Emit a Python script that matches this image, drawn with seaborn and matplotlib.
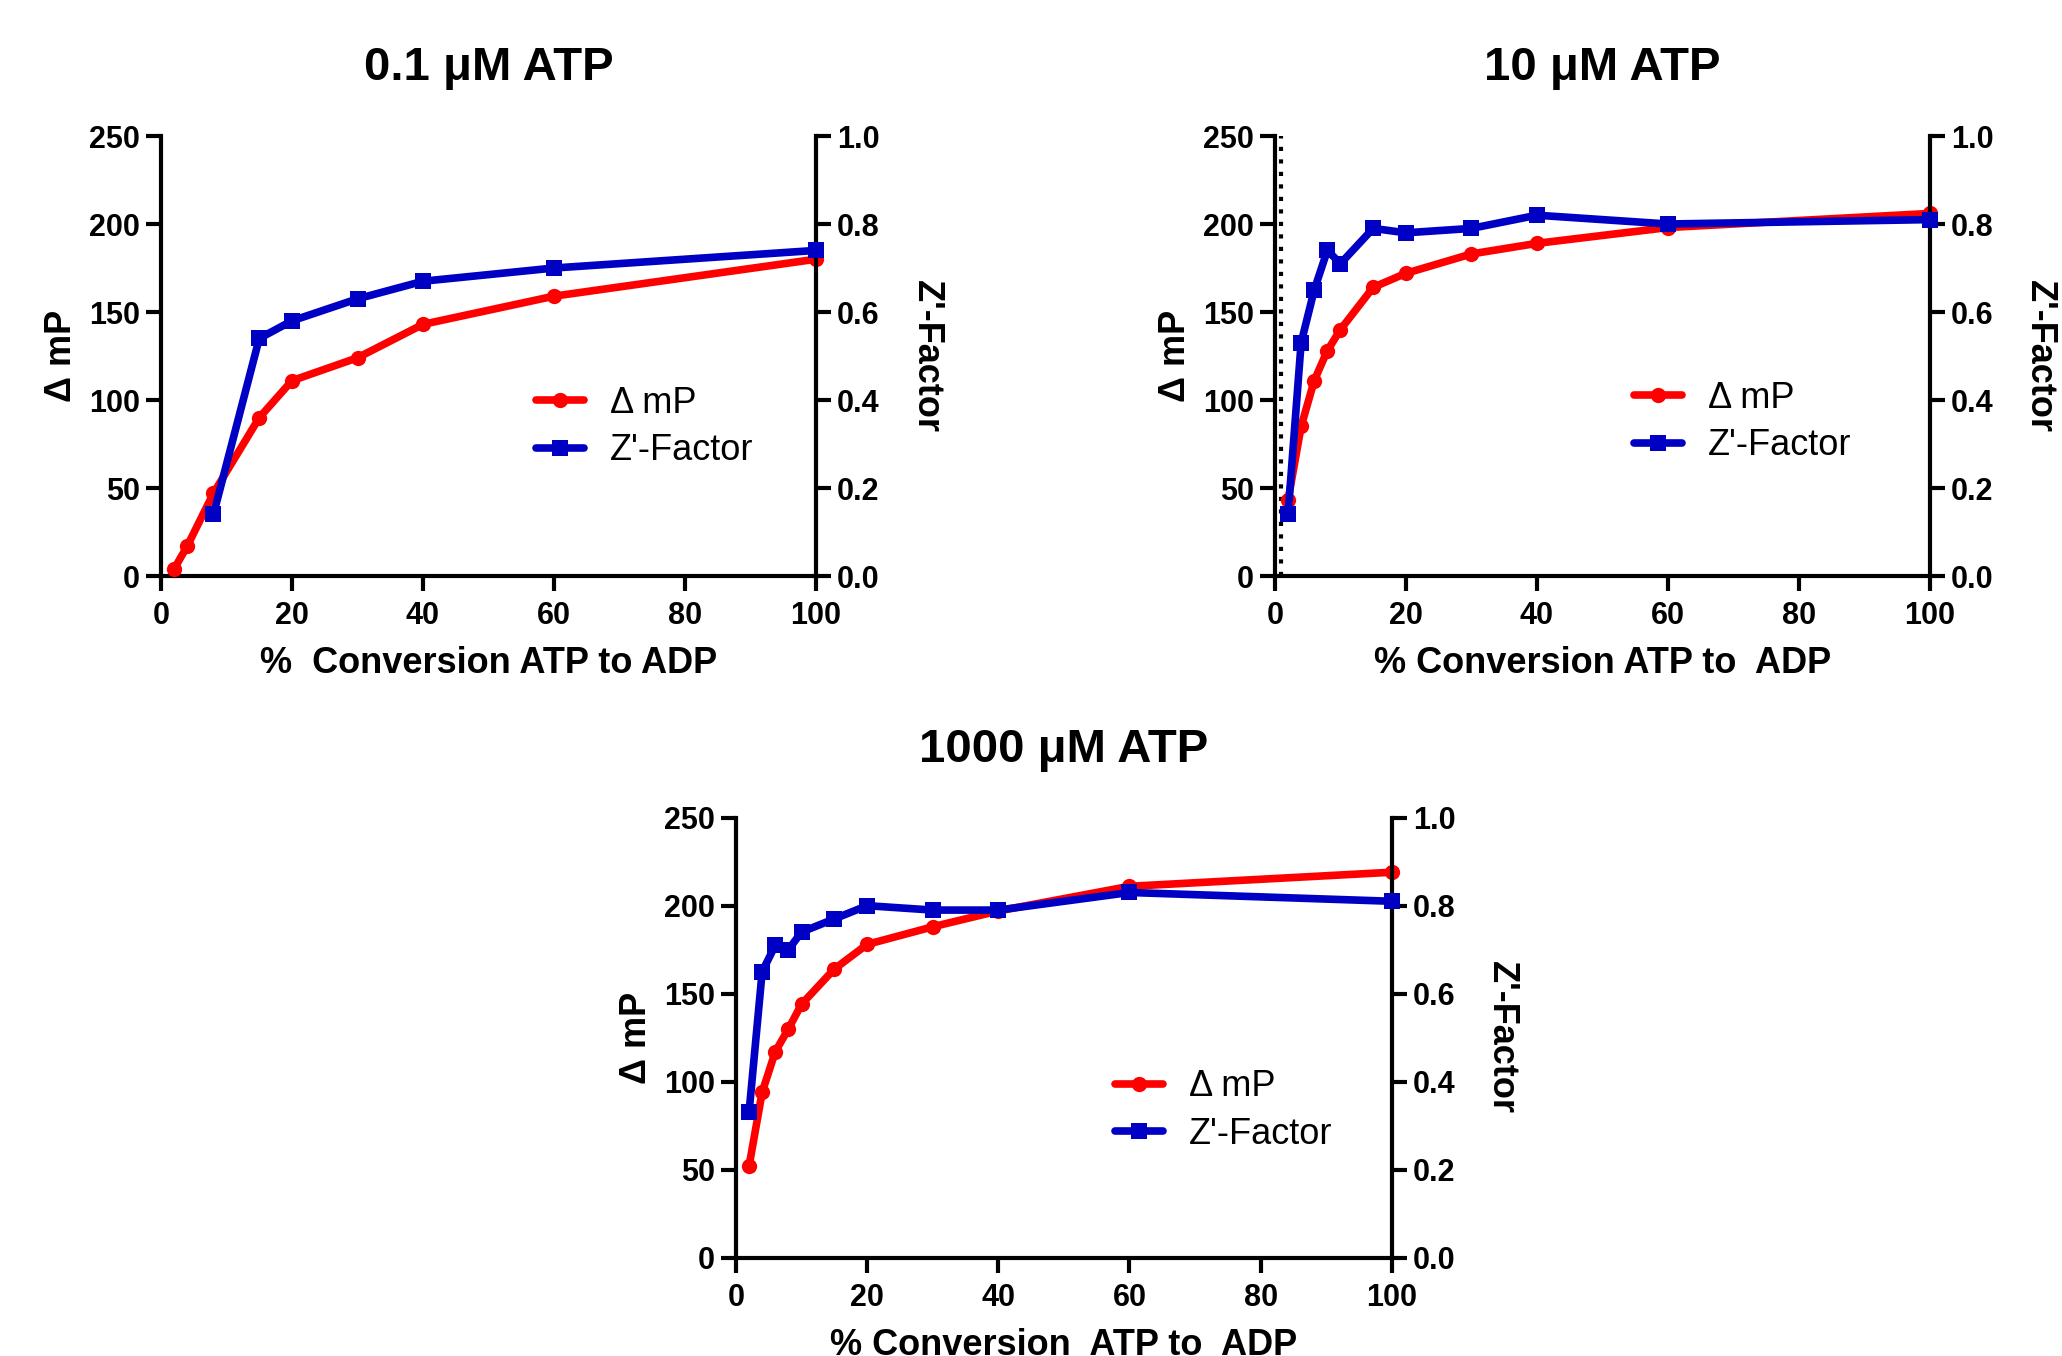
import numpy as np
import pandas as pd
import seaborn as sns
import matplotlib.pyplot as plt
from matplotlib.lines import Line2D

# data
pct_01 = [2, 4, 8, 15, 20, 30, 40, 60, 100]
dmp_01 = [4, 17, 47, 90, 111, 124, 143, 159, 180]
pct_z_01 = [8, 15, 20, 30, 40, 60, 100]
z_01 = [0.14, 0.54, 0.58, 0.63, 0.67, 0.70, 0.74]

pct_10 = [2, 4, 6, 8, 10, 15, 20, 30, 40, 60, 100]
dmp_10 = [43, 85, 111, 128, 140, 164, 172, 183, 189, 198, 206]
z_10 = [0.14, 0.53, 0.65, 0.74, 0.71, 0.79, 0.78, 0.79, 0.82, 0.80, 0.81]

pct_1000 = [2, 4, 6, 8, 10, 15, 20, 30, 40, 60, 100]
dmp_1000 = [52, 94, 117, 130, 144, 164, 178, 188, 197, 211, 219]
z_1000 = [0.33, 0.65, 0.71, 0.70, 0.74, 0.77, 0.80, 0.79, 0.79, 0.83, 0.81]

titles = ['0.1 \u03bcM ATP', '10 \u03bcM ATP', '1000 \u03bcM ATP']
xlabels = ['%  Conversion ATP to ADP', '% Conversion ATP to  ADP',
           '% Conversion  ATP to  ADP']
legend_names = ['\u0394 mP', "Z'-Factor"]

sns.set_style('ticks')
plt.rcParams['font.family'] = ['Liberation Sans', 'DejaVu Sans']
plt.rcParams['text.color'] = 'black'
plt.rcParams['axes.labelcolor'] = 'black'
plt.rcParams['axes.edgecolor'] = 'black'
plt.rcParams['xtick.color'] = 'black'
plt.rcParams['ytick.color'] = 'black'

RED = '#ff0000'
BLUE = '#0000c4'
LW = 5.5
SPINE = 3

fig = plt.figure(figsize=(20.62, 13.56), dpi=100)

panels = [
    # axes rect, red x, red y, blue x, blue y, legend anchor
    ([0.0781, 0.5752, 0.3176, 0.3245], pct_01, dmp_01, pct_z_01, z_01, (0.573, 0.339)),
    ([0.6183, 0.5752, 0.3176, 0.3245], pct_10, dmp_10, pct_10, z_10, (0.548, 0.350)),
    ([0.3569, 0.0725, 0.3181, 0.3245], pct_1000, dmp_1000, pct_1000, z_1000, (0.578, 0.334)),
]

for i, (rect, xr, yr, xb, yb, anchor) in enumerate(panels):
    ax = fig.add_axes(rect)
    ax2 = ax.twinx()

    if i == 1:
        ax.axvline(1, color='black', lw=3, ls=(0, (1, 2)), zorder=1)

    sns.lineplot(x=xr, y=yr, ax=ax, color=RED, marker='o', markersize=11,
                 markeredgewidth=0, linewidth=LW, clip_on=False, zorder=3)
    sns.lineplot(x=xb, y=yb, ax=ax2, color=BLUE, marker='s', markersize=12,
                 markeredgewidth=0, linewidth=LW, clip_on=False, zorder=3)

    ax.set_xlim(0, 100)
    ax.set_ylim(0, 250)
    ax2.set_ylim(0, 1)
    ax.set_xticks([0, 20, 40, 60, 80, 100])
    ax.set_yticks([0, 50, 100, 150, 200, 250])
    ax2.set_yticks([0, 0.2, 0.4, 0.6, 0.8, 1.0])
    ax2.set_yticklabels(['0.0', '0.2', '0.4', '0.6', '0.8', '1.0'])

    for a in (ax, ax2):
        a.tick_params(width=SPINE, length=11, pad=4, labelsize=22)
        for lab in a.get_xticklabels() + a.get_yticklabels():
            lab.set_fontweight('bold')
        for s in a.spines.values():
            s.set_linewidth(SPINE)
    ax.tick_params(axis='x', pad=7)
    ax.spines['top'].set_visible(False)
    ax.spines['right'].set_visible(False)
    ax2.spines['top'].set_visible(False)
    ax2.spines['left'].set_visible(False)
    ax2.spines['bottom'].set_visible(False)

    ax.set_title(titles[i], fontsize=34, fontweight='bold', pad=40)
    ax.set_xlabel(xlabels[i], fontsize=26, fontweight='bold', labelpad=11)
    ax.set_ylabel(legend_names[0], fontsize=26, fontweight='bold', labelpad=7)
    ax2.set_ylabel("Z'-Factor", fontsize=26, fontweight='bold',
                   rotation=270, labelpad=46)

    handles = [
        Line2D([], [], color=RED, lw=LW, marker='o', markersize=11, markeredgewidth=0),
        Line2D([], [], color=BLUE, lw=LW, marker='s', markersize=12, markeredgewidth=0),
    ]
    if ax.get_legend():
        ax.get_legend().remove()
    if ax2.get_legend():
        ax2.get_legend().remove()
    ax2.legend(handles, legend_names, loc='center left', bbox_to_anchor=anchor,
               frameon=False, fontsize=26, handlelength=1.33, handletextpad=0.72,
               labelspacing=0.35, borderpad=0, borderaxespad=0)

fig.savefig('out.png', dpi=100)
